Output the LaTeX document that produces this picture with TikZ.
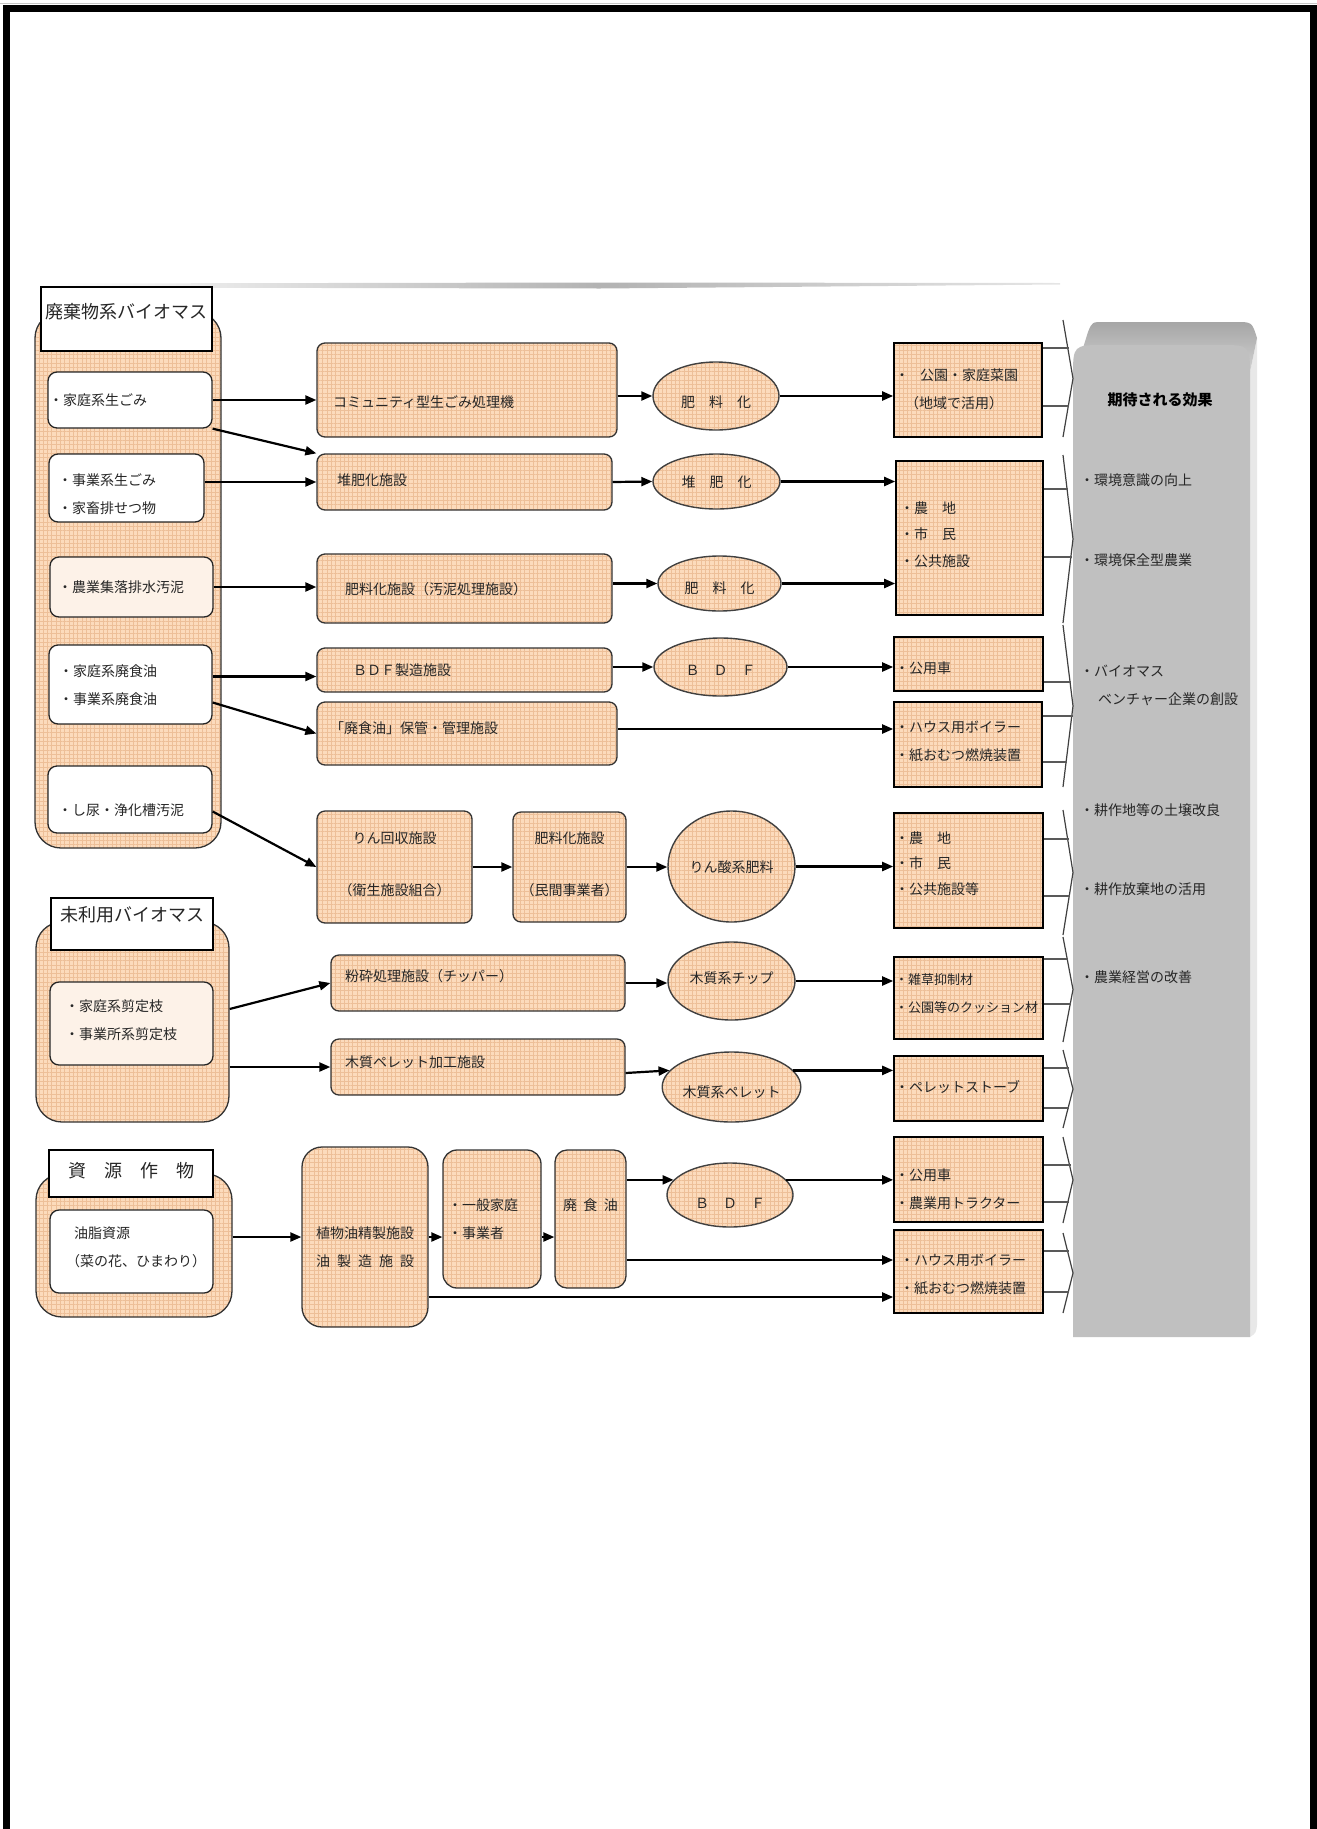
\documentclass[tikz,border=0pt]{standalone}
\usepackage{fontspec}
\setmainfont{Noto Sans CJK JP}
\usetikzlibrary{arrows.meta,shapes.geometric,patterns.meta,calc}
\definecolor{peach}{HTML}{FCDBBC}
\definecolor{gridc}{HTML}{EDBF98}
\definecolor{pale}{HTML}{FDF2E8}
\definecolor{txt}{HTML}{262626}
\definecolor{panel}{HTML}{C0C0C0}
\newcommand\BX[7][]{%
  \pgfmathsetmacro\bxw{#5-#3}\pgfmathsetmacro\bxh{#6-#4}%
  \node[inner sep=0pt,#1,minimum width=\bxw pt,minimum height=\bxh pt] (#2) at ({(#3+#5)/2},{(#4+#6)/2}) {#7};}
\newcommand\BXL[8][]{%
  \pgfmathsetmacro\bxw{#5-#3}\pgfmathsetmacro\bxh{#6-#4}\pgfmathsetmacro\bxt{#5-#3-2*#7}%
  \node[inner ysep=0pt,inner xsep=#7pt,#1,minimum width=\bxw pt,minimum height=\bxh pt] (#2) at ({(#3+#5)/2},{(#4+#6)/2}) {\makebox[\bxt pt][l]{#8}};}
\newcommand\TX[3]{\pgfmathsetmacro\txr{-(#1)-3.5}\raisebox{\txr pt}[0pt][0pt]{\begin{tabular}[c]{@{}#2@{}}#3\end{tabular}}}
\newcommand\CHEV[2]{\pgfmathsetmacro\chm{(#1+#2)/2}\draw[chev] (1063,#1) -- (1073,\chm) -- (1063,#2);}
\begin{document}
\begin{tikzpicture}[x=1pt,y=-1pt,font=\fontsize{14}{28}\selectfont,text=txt,
  pbox/.style={draw=black!80,line width=1.3,rounded corners=8,preaction={fill=peach},pattern color=gridc,pattern={Hatch[angle=0,distance=4.3pt,line width=0.3pt]}},
  grp/.style={pbox,rounded corners=26},
  rbox/.style={pbox,sharp corners,draw=black,line width=1.6},
  ell/.style={pbox,ellipse,sharp corners,draw=black!75,line width=1.4},
  ttl/.style={draw=black,line width=1.4,fill=white,font=\fontsize{18}{24}\selectfont},
  itm/.style={draw=black!85,line width=1.3,fill=white,rounded corners=9},
  itmp/.style={itm,fill=pale},
  arr/.style={line width=2.2,-{Triangle[length=11pt,width=9pt]}},
  chl/.style={black!65,line width=1.6},
  chev/.style={black!75,line width=1.2,line join=round},
  eff/.style={anchor=west,inner sep=0pt}]
\useasboundingbox (0,0) rectangle (1317,1829);
% page frame
\draw[gray!45,line width=1] (0,3.5) -- (1317,3.5);
\draw[line width=7,line join=miter] (6.5,1829) -- (6.5,8.5) -- (1313.5,8.5) -- (1313.5,1829);
% top shadow bar
\shade[left color=white,right color=gray!60] (50,283.5) -- (600,282.5) -- (600,288.5) -- (50,287.5) -- cycle;
\shade[left color=gray!60,right color=gray!20] (600,282.5) -- (1060,283) -- (1060,284.5) -- (600,288.5) -- cycle;

% groups
\BX[grp]{g1}{35}{312}{221}{848}{}
\BX[grp]{g2}{36}{922}{229}{1122}{}
\BX[grp]{g3}{36}{1174}{232}{1317}{}
\BX[ttl]{t1}{41}{287}{212}{351}{\TX{-4}{c}{廃棄物系バイオマス}}
\BX[ttl]{t2}{51}{898}{213}{950}{\TX{-6}{c}{未利用バイオマス}}
\BX[ttl]{t3}{49}{1150}{213}{1197}{\TX{0}{c}{資　源　作　物}}
% items
\BXL[itm]{i1}{48}{372}{212}{428}{1}{\TX{0}{l}{・家庭系生ごみ}}
\BXL[itm]{i2}{49}{454}{204}{522}{9}{\TX{6}{l}{・事業系生ごみ\\・家畜排せつ物}}
\BXL[itmp]{i3}{50}{557}{213}{617}{8}{\TX{0}{l}{・農業集落排水汚泥}}
\BXL[itm]{i4}{49}{645}{212}{724}{10}{\TX{0}{l}{・家庭系廃食油\\・事業系廃食油}}
\BXL[itm]{i5}{48}{766}{212}{833}{10}{\TX{10}{l}{・し尿・浄化槽汚泥}}
\BXL[itmp]{i6}{50}{982}{213}{1065}{15}{\TX{-4}{l}{・家庭系剪定枝\\・事業所系剪定枝}}
\BXL[itm]{i7}{50}{1210}{213}{1293}{16}{\TX{-5}{l}{\hspace{8pt}油脂資源\\（菜の花、ひまわり）}}

% process boxes
\BXL[pbox]{m1}{317}{343}{617}{437}{16}{\TX{12}{l}{コミュニティ型生ごみ処理機}}
\BXL[pbox]{m2}{317}{454}{612}{510}{20}{\TX{-2}{l}{堆肥化施設}}
\BXL[pbox]{m3}{317}{554}{612}{623}{28}{\TX{0}{l}{肥料化施設（汚泥処理施設）}}
\BXL[pbox]{m4}{317}{648}{612}{692}{36}{\TX{0}{l}{ＢＤＦ製造施設}}
\BXL[pbox]{m5}{317}{702}{617}{765}{13}{\TX{-6}{l}{「廃食油」保管・管理施設}}
\BX[pbox]{m6}{317}{811}{472}{923}{\TX{-3}{c}{りん回収施設\\[24pt]（衛生施設組合）}}
\BX[pbox]{m7}{513}{812}{626}{922}{\TX{-3}{c}{肥料化施設\\[24pt]（民間事業者）}}
\BXL[pbox]{m8}{331}{955}{625}{1011}{14}{\TX{-7}{l}{粉砕処理施設（チッパー）}}
\BXL[pbox]{m9}{331}{1039}{625}{1095}{14}{\TX{-5}{l}{木質ペレット加工施設}}
\BX[pbox,rounded corners=20]{m10}{302}{1147}{428}{1327}{\TX{10}{c}{植物油精製施設\\油\hspace{.5em}製\hspace{.5em}造\hspace{.5em}施\hspace{.5em}設}}
\BXL[pbox,rounded corners=14]{m11}{443}{1150}{541}{1288}{5}{\TX{0}{l}{・一般家庭\\・事業者}}
\BX[pbox,rounded corners=12]{m12}{555}{1150}{626}{1288}{\TX{-14}{c}{廃\hspace{.45em}食\hspace{.45em}油}}

% ellipses
\BX[ell]{e1}{653}{362}{779}{430}{\TX{6}{c}{肥　料　化}}
\BX[ell]{e2}{653}{454}{780}{509}{\TX{0}{c}{堆　肥　化}}
\BX[ell]{e3}{658}{556}{781}{611}{\TX{4}{c}{肥　料　化}}
\BX[ell]{e4}{654}{638}{787}{696}{\TX{3}{c}{Ｂ　Ｄ　Ｆ}}
\BX[ell]{e5}{668}{811}{795}{922}{\TX{0}{c}{りん酸系肥料}}
\BX[ell]{e6}{668}{942}{795}{1020}{\TX{-3}{c}{木質系チップ}}
\BX[ell]{e7}{668}{1052}{795}{1122}{\TX{5}{c}{木質系ペレット}}
\BX[ell]{e8}{667}{1163}{793}{1227}{\TX{8}{c}{Ｂ　Ｄ　Ｆ}}

% result boxes
\BXL[rbox]{r1}{894}{343}{1042}{437}{1}{\TX{-1}{l}{・\hspace{11pt}公園・家庭菜園\\\hspace{10pt}（地域で活用）}}
\BXL[rbox,font=\fontsize{14}{26.5}\selectfont]{r2}{896}{461}{1043}{615}{4}{\TX{-3.5}{l}{・農　地\\・市　民\\・公共施設}}
\BXL[rbox]{r3}{894}{637}{1043}{691}{1}{\TX{4}{l}{・公用車}}
\BXL[rbox]{r4}{894}{702}{1042}{787}{1}{\TX{-3.5}{l}{・ハウス用ボイラー\\・紙おむつ燃焼装置}}
\BXL[rbox,font=\fontsize{14}{25.5}\selectfont]{r5}{894}{813}{1043}{928}{1}{\TX{-7}{l}{・農　地\\・市　民\\・公共施設等}}
\BXL[rbox,font=\fontsize{13}{28}\selectfont]{r6}{894}{957}{1043}{1039}{1}{\TX{-6}{l}{・雑草抑制材\\・公園等のクッション材}}
\BXL[rbox]{r7}{894}{1056}{1043}{1121}{1}{\TX{-1.5}{l}{・ペレットストーブ}}
\BXL[rbox]{r8}{894}{1137}{1043}{1222}{1}{\TX{9}{l}{・公用車\\・農業用トラクター}}
\BXL[rbox]{r9}{894}{1230}{1043}{1313}{6}{\TX{2.5}{l}{・ハウス用ボイラー\\・紙おむつ燃焼装置}}

% effects panel
\fill[gray!18] (1250,372) -- (1257,338) -- (1257,1325) .. controls (1256,1333) .. (1250,1337) -- cycle;
\shade[top color=gray!70,bottom color=gray!30] (1073,380) -- (1088,332) .. controls (1092,322) .. (1104,322) -- (1236,322) .. controls (1252,322) .. (1257,338) -- (1250,372) -- cycle;
\fill[panel] (1073,1337) -- (1073,377) .. controls (1073,345) .. (1105,345) -- (1220,345) .. controls (1250,345) .. (1250,377) -- (1250,1337) -- cycle;
\node[font=\fontsize{15}{20}\selectfont\bfseries,text=black] (eft) at (1160,400) {期待される効果};
\node[eff] (ef1) at (1080,480) {・環境意識の向上};
\node[eff] (ef2) at (1080,560) {・環境保全型農業};
\node[eff] (ef3) at (1080,685) {\TX{0}{l}{・バイオマス\\\hspace{18pt}ベンチャー企業の創設}};
\node[eff] (ef4) at (1080,810) {・耕作地等の土壌改良};
\node[eff] (ef5) at (1080,889) {・耕作放棄地の活用};
\node[eff] (ef6) at (1080,977) {・農業経営の改善};

% chevrons and their feeder lines
\CHEV{320}{437}
\CHEV{455}{623}
\CHEV{625}{787}
\CHEV{810}{935}
\CHEV{937}{1042}
\CHEV{1050}{1128}
\CHEV{1137}{1223}
\CHEV{1233}{1313}
\draw[chl] ($(r1.north east)+(0,6)$) -- ++(26,0);
\draw[chl] ($(r1.north east)+(0,64)$) -- ++(26,0);
\draw[chl] ($(r2.north east)+(0,29)$) -- ++(24,0);
\draw[chl] ($(r2.north east)+(0,97)$) -- ++(28,0);
\draw[chl] ($(r3.north east)+(0,46)$) -- ++(27,0);
\draw[chl] ($(r4.north east)+(0,15)$) -- ++(30,0);
\draw[chl] ($(r4.north east)+(0,61)$) -- ++(24,0);
\draw[chl] ($(r5.north east)+(0,27)$) -- ++(25,0);
\draw[chl] ($(r5.north east)+(0,84)$) -- ++(26,0);
\draw[chl] ($(r6.north east)+(0,3)$) -- ++(24,0);
\draw[chl] ($(r6.north east)+(0,48)$) -- ++(27,0);
\draw[chl] ($(r7.north east)+(0,13)$) -- ++(25,0);
\draw[chl] ($(r7.north east)+(0,53)$) -- ++(25,0);
\draw[chl] ($(r8.north east)+(0,29)$) -- ++(27,0);
\draw[chl] ($(r8.north east)+(0,66)$) -- ++(25,0);
\draw[chl] ($(r9.north east)+(0,22)$) -- ++(25,0);
\draw[chl] ($(r9.north east)+(0,63)$) -- ++(25,0);

% connectors
\coordinate (i4a) at ($(i4.east)+(0,-8)$);
\coordinate (m5a) at ($(m5.east)+(0,-4.5)$);
\coordinate (m12o) at ($(m12.east)+(0,41)$);
\coordinate (m10o) at ($(m10.east)+(0,60)$);
\draw[arr] (i1.east) -- (i1.east -| m1.west);
\draw[arr] (i1.south east) -- (m2.north west);
\draw[arr] (i2.east |- m2.west) -- (m2.west);
\draw[arr] (i3.east) -- (i3.east -| m3.west);
\draw[arr] (i4a) -- (i4a -| m4.west);
\draw[arr] ($(i4.east)+(0,18)$) -- (m5.west);
\draw[arr] ($(i5.east)+(0,12)$) -- (m6.west);
\draw[arr] (m1.east |- e1.west) -- (e1.west);
\draw[arr] (m2.east) -- (e2.west);
\draw[arr] (m3.east |- e3.west) -- (e3.west);
\draw[arr] (m4.east |- e4.west) -- (e4.west);
\draw[arr] (m6.east) -- (m7.west);
\draw[arr] (m7.east) -- (m7.east -| e5.west);
\draw[arr] (e1.east) -- (e1.east -| r1.west);
\draw[arr] (e2.east) -- (e2.east -| r2.west);
\draw[arr] (e3.east) -- (e3.east -| r2.west);
\draw[arr] (e4.east) -- (e4.east -| r3.west);
\draw[arr] (m5a) -- (m5a -| r4.west);
\draw[arr] (e5.east) -- (e5.east -| r5.west);
\draw[arr] ($(g2.east)+(0,-13)$) -- (m8.west);
\draw[arr] (g2.east |- m9.west) -- (m9.west);
\draw[arr] (m8.east) -- (m8.east -| e6.west);
\draw[arr] ($(m9.east)+(0,6)$) -- (e7.165);
\draw[arr] (e6.east) -- (e6.east -| r6.west);
\draw[arr] (e7.15) -- (e7.15 -| r7.west);
\draw[arr] (g3.east |- m10.west) -- (m10.west);
\draw[arr] (m10.east) -- (m10.east -| m11.west);
\draw[arr] (m10.east -| m11.east) -- (m10.east -| m12.west);
\draw[arr] (m12.east |- e8.165) -- (e8.165);
\draw[arr] (e8.15) -- (e8.15 -| r8.west);
\draw[arr] (m12o) -- (m12o -| r9.west);
\draw[arr] (m10o) -- (m10o -| r9.west);
\end{tikzpicture}
\end{document}
